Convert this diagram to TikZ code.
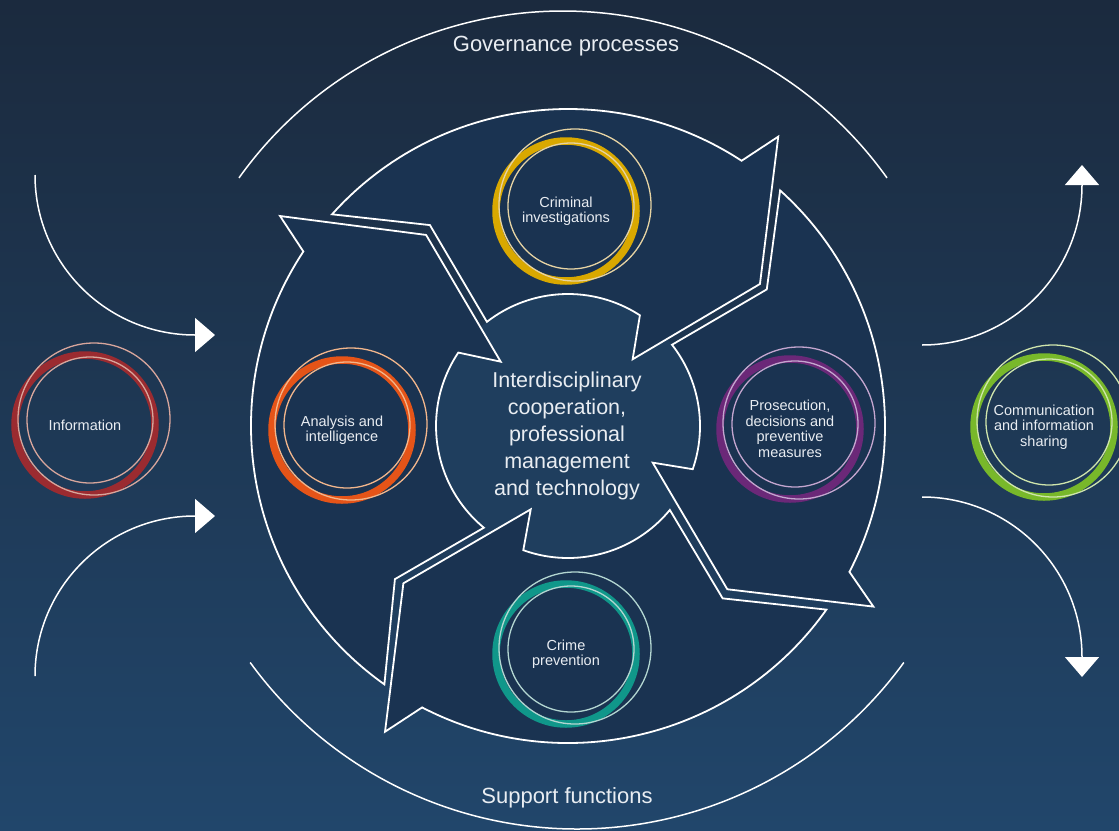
\documentclass[tikz,border=0pt]{standalone}
\usepackage{fontspec}
\setmainfont{Liberation Sans}
\usetikzlibrary{arrows.meta}
\usetikzlibrary{positioning}
\definecolor{bgtop}{HTML}{1B2A3E}
\definecolor{bgbottom}{HTML}{21466B}
\definecolor{arrowfill}{HTML}{1A3351}
\definecolor{hubfill}{HTML}{1F3E5E}
\definecolor{textwhite}{HTML}{E9EDF2}
\definecolor{infored}{HTML}{9B2B30}
\definecolor{infothin}{HTML}{D8A69C}
\definecolor{analysisorange}{HTML}{E55418}
\definecolor{analysisthin}{HTML}{F2B68C}
\definecolor{criminalgold}{HTML}{D9A800}
\definecolor{criminalthin}{HTML}{E6D3A3}
\definecolor{prosecpurple}{HTML}{6B2878}
\definecolor{prosecthin}{HTML}{C4A6CF}
\definecolor{preventteal}{HTML}{10978A}
\definecolor{preventthin}{HTML}{B3D6D1}
\definecolor{commgreen}{HTML}{78B82A}
\definecolor{commthin}{HTML}{CFE5AC}

\tikzset{
    ringnode/.style={circle, draw=#1, line width=7.5pt, minimum size=140pt, inner sep=0pt,
        align=center, text=textwhite, font=\fontsize{14.5}{15.5}\selectfont},
    thinring/.style={draw=#1, line width=1.3pt},
    arrowbody/.style={draw=white, line width=1.8pt, fill=arrowfill, line join=miter},
    frameline/.style={draw=white, line width=1.5pt},
    flowtip/.style={-{Triangle[length=20pt, width=34pt]}},
    framelabel/.style={text=textwhite, font=\fontsize{22}{26}\selectfont},
}

\begin{document}
\begin{tikzpicture}[x=1pt, y=1pt]

    % background
    \shade[top color=bgtop, bottom color=bgbottom] (0,0) rectangle (1119,-830);
    \useasboundingbox (0,0) rectangle (1119,-830);

    % governance and support arcs
    \draw[frameline] (563,-409) ++(144.5:398) arc[start angle=144.5, end angle=35.5, radius=398];
    \draw[frameline] (577,-425) ++(216:404) arc[start angle=216, end angle=324, radius=404];

    \node[framelabel] (gov) at (566,-46) {Governance processes};
    \node[framelabel] (sup) at (567,-798) {Support functions};

    % flows in and out
    \coordinate (inTop) at (35,-175);
    \coordinate (inBot) at (35,-676);
    \coordinate (outTop) at (922,-345);
    \coordinate (outBot) at (922,-497);

    \draw[frameline, flowtip] (inTop) arc[start angle=180, end angle=270, radius=160] -- ++(20,0);
    \draw[frameline, flowtip] (inBot) arc[start angle=180, end angle=90, radius=160] -- ++(20,0);
    \draw[frameline, flowtip] (outTop) arc[start angle=270, end angle=360, radius=160] -- ++(0,20);
    \draw[frameline, flowtip] (outBot) arc[start angle=90, end angle=0, radius=160] -- ++(0,-20);

    % hub
    \fill[hubfill] (568,-426) circle[radius=132];

    % the four arrows
    \begin{scope}[shift={(568,-426)}]
        \draw[arrowbody] (138.1:317) arc[start angle=138.1, end angle=56.8, radius=317]
            -- (54.0:357.7) -- (36.5:238.8) -- (45.9:92.9) -- (57.0:132)
            arc[start angle=57.0, end angle=127.9, radius=132] -- (124.5:243.8) -- cycle;
        \draw[arrowbody] (48.0:317) arc[start angle=48.0, end angle=-27.4, radius=317]
            -- (-30.6:354.8) -- (-45.7:228.1) -- (-23.4:92.3) -- (-19.1:132)
            arc[start angle=-19.1, end angle=38.0, radius=132] -- (34.5:241.2) -- cycle;
        \draw[arrowbody] (-35.4:317) arc[start angle=-35.4, end angle=-117.4, radius=317]
            -- (-120.9:356.3) -- (-136.3:227.7) -- (-114.1:91.3) -- (-109.8:132)
            arc[start angle=-109.8, end angle=-39.5, radius=132] -- (-48.1:231.6) -- cycle;
        \draw[arrowbody] (234.6:317) arc[start angle=234.6, end angle=146.6, radius=317]
            -- (143.9:356.4) -- (126.6:238.0) -- (136.3:93.1) -- (146.2:132)
            arc[start angle=146.2, end angle=230.4, radius=132] -- (221.5:231.1) -- cycle;
    \end{scope}

    \node[align=center, text=textwhite, font=\fontsize{21.5}{27}\selectfont] (core) at (567,-436)
        {Interdisciplinary\\cooperation,\\professional\\management\\and technology};

    % rings
    \node[ringnode=infored] (info) at (85,-425) {Information};
    \draw[thinring=infothin] ([shift={(9,6)}]info.center) circle[radius=76];
    \draw[thinring=infothin] ([shift={(5,5)}]info.center) circle[radius=63];

    \node[ringnode=analysisorange] (analysis) at (342,-430) {Analysis and\\intelligence};
    \draw[thinring=analysisthin] ([shift={(9,6)}]analysis.center) circle[radius=76];
    \draw[thinring=analysisthin] ([shift={(5,5)}]analysis.center) circle[radius=63];

    \node[ringnode=criminalgold] (criminal) at (566,-211) {Criminal\\investigations};
    \draw[thinring=criminalthin] ([shift={(9,6)}]criminal.center) circle[radius=76];
    \draw[thinring=criminalthin] ([shift={(5,5)}]criminal.center) circle[radius=63];

    \node[ringnode=prosecpurple] (prosec) at (790,-429) {Prosecution,\\decisions and\\preventive\\measures};
    \draw[thinring=prosecthin] ([shift={(9,6)}]prosec.center) circle[radius=76];
    \draw[thinring=prosecthin] ([shift={(5,5)}]prosec.center) circle[radius=63];

    \node[ringnode=preventteal] (prevent) at (566,-654) {Crime\\prevention};
    \draw[thinring=preventthin] ([shift={(9,6)}]prevent.center) circle[radius=76];
    \draw[thinring=preventthin] ([shift={(5,5)}]prevent.center) circle[radius=63];

    \node[ringnode=commgreen] (comm) at (1044,-427) {Communication\\and information\\sharing};
    \draw[thinring=commthin] ([shift={(9,6)}]comm.center) circle[radius=76];
    \draw[thinring=commthin] ([shift={(5,5)}]comm.center) circle[radius=63];

\end{tikzpicture}
\end{document}
